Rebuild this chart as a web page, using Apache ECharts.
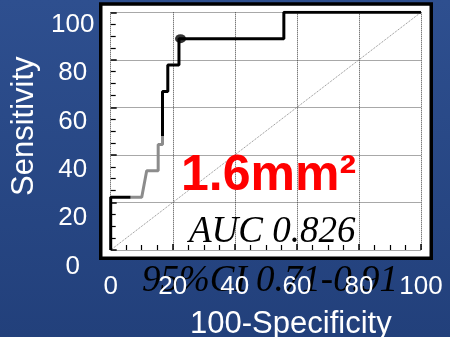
<!DOCTYPE html>
<html>
<head>
<meta charset="utf-8">
<style>html,body{margin:0;padding:0;width:450px;height:337px;overflow:hidden;background:#2a4a8a;}#c{width:450px;height:337px;}</style>
<script src="https://cdn.jsdelivr.net/npm/echarts@6/dist/echarts.min.js"></script>
</head>
<body>
<div id="c"></div>
<script>
// ---- data ----
var xTickValues = [0, 20, 40, 60, 80, 100];
var yTickValues = [0, 20, 40, 60, 80, 100];
var rocBlackStart = [[0, 0], [0, 22.2], [6.4, 22.2]];
var rocGray = [[6.4, 22.2], [10, 22.2], [11.6, 33.3], [15.3, 33.3], [15.3, 44.4], [16.7, 44.4], [16.7, 48]];
var rocBlackEnd = [[16.7, 48], [16.7, 66.7], [18.4, 66.7], [18.4, 77.8], [22, 77.8], [22, 88.9], [55.8, 88.9], [55.8, 100], [100, 100]];
var cutoffPoint = [[22.5, 88.9]];
var chanceLine = [[0, 0], [100, 100]];
var xTitle = '100-Specificity';
var yTitle = 'Sensitivity';
var sizeLabel = '1.6mm²';
var aucLabel = 'AUC 0.826';
var ciLabel = '95%CI 0.71-0.91';

var SANS = '"Liberation Sans", Arial, sans-serif';
var SERIF = '"Liberation Serif", "Times New Roman", serif';

var chart = echarts.init(document.getElementById('c'), null, {renderer: 'canvas'});
var option = {
  animation: false,
  grid: [
    {left: 110.7, right: 29, top: 12.3, bottom: 87, containLabel: false, outerBoundsMode: 'none'},
    {left: 110.7, right: 29, top: 25, bottom: 70.5, containLabel: false, outerBoundsMode: 'none'}
  ],
  xAxis: [
    {
      type: 'value', gridIndex: 0, min: 0, max: 100, interval: 20, offset: 6.5,
      axisLine: {show: false},
      axisTick: {show: true, inside: true, length: 6, lineStyle: {color: '#000', width: 1.5}},
      minorTick: {show: true, splitNumber: 4, length: 5, lineStyle: {color: '#000', width: 1.2}},
      splitLine: {show: true, lineStyle: {color: '#444', type: 'dotted', width: 1}},
      axisLabel: {color: '#fff', fontSize: 26, fontFamily: SANS, margin: 17,
        formatter: function (v) { return xTickValues.indexOf(v) >= 0 ? String(v) : ''; }},
      name: xTitle, nameLocation: 'middle', nameGap: 52,
      nameTextStyle: {color: '#fff', fontSize: 31, fontFamily: SANS, padding: [0, 0, 0, 50]},
      z: 1
    },
    {type: 'value', gridIndex: 1, min: 0, max: 100, show: false}
  ],
  yAxis: [
    {
      type: 'value', gridIndex: 0, min: 0, max: 100, interval: 20, offset: 8.7,
      axisLine: {show: false},
      axisTick: {show: true, inside: true, length: 6, lineStyle: {color: '#000', width: 1.5}},
      minorTick: {show: true, splitNumber: 4, length: 5, lineStyle: {color: '#000', width: 1.2}},
      splitLine: {show: true, lineStyle: {color: '#a8a8a8', width: 1.2}},
      axisLabel: {show: false}
    },
    {
      type: 'value', gridIndex: 1, min: 0, max: 100, interval: 20,
      axisLine: {show: false}, axisTick: {show: false}, splitLine: {show: false},
      axisLabel: {color: '#fff', fontSize: 26, fontFamily: SANS, margin: 38, align: 'center',
        formatter: function (v) { return yTickValues.indexOf(v) >= 0 ? String(v) : ''; }},
      name: yTitle, nameLocation: 'middle', nameGap: 69,
      nameTextStyle: {color: '#fff', fontSize: 31, fontFamily: SANS, padding: [0, 0, 0, 39]}
    }
  ],
  graphic: [
    {type: 'rect', z: -100, silent: true,
      shape: {x: 0, y: 0, width: 450, height: 337},
      style: {fill: new echarts.graphic.LinearGradient(0, 0, 0, 1, [
        {offset: 0, color: '#2e4f8f'}, {offset: 1, color: '#22407b'}])}},
    {type: 'rect', z: -50, silent: true,
      shape: {x: 100.75, y: 4, width: 330.5, height: 254.25},
      style: {fill: '#ffffff', stroke: '#000000', lineWidth: 3.5}},
    {type: 'text', z: 50, silent: true,
      style: {text: sizeLabel, x: 181, y: 176, textAlign: 'left', textVerticalAlign: 'middle',
        font: 'bold 50px ' + SANS, fill: '#ff0000'}},
    {type: 'text', z: 50, silent: true,
      style: {text: aucLabel, x: 189, y: 232, textAlign: 'left', textVerticalAlign: 'middle',
        font: 'italic 37px ' + SERIF, fill: '#000000'}},
    {type: 'text', z: -1, silent: true,
      style: {text: ciLabel, x: 142, y: 281, textAlign: 'left', textVerticalAlign: 'middle',
        font: 'italic 37px ' + SERIF, fill: '#000000'}}
  ],
  series: [
    {type: 'line', xAxisIndex: 0, yAxisIndex: 0, data: chanceLine, showSymbol: false, silent: true,
      lineStyle: {color: '#888', width: 1, type: 'dotted'}, z: 2},
    {type: 'line', xAxisIndex: 0, yAxisIndex: 0, data: rocGray, showSymbol: false, silent: true,
      lineStyle: {color: '#8c8c8c', width: 3}, z: 3},
    {type: 'line', xAxisIndex: 0, yAxisIndex: 0, data: rocBlackStart, showSymbol: false, silent: true,
      lineStyle: {color: '#000', width: 3}, z: 4},
    {type: 'line', xAxisIndex: 0, yAxisIndex: 0, data: rocBlackEnd, showSymbol: false, silent: true,
      lineStyle: {color: '#000', width: 3}, z: 4},
    {type: 'scatter', xAxisIndex: 0, yAxisIndex: 0, data: cutoffPoint, symbol: 'circle', symbolSize: [11, 9],
      itemStyle: {color: '#000'}, silent: true, z: 5}
  ]
};
chart.setOption(option);
</script>
</body>
</html>
